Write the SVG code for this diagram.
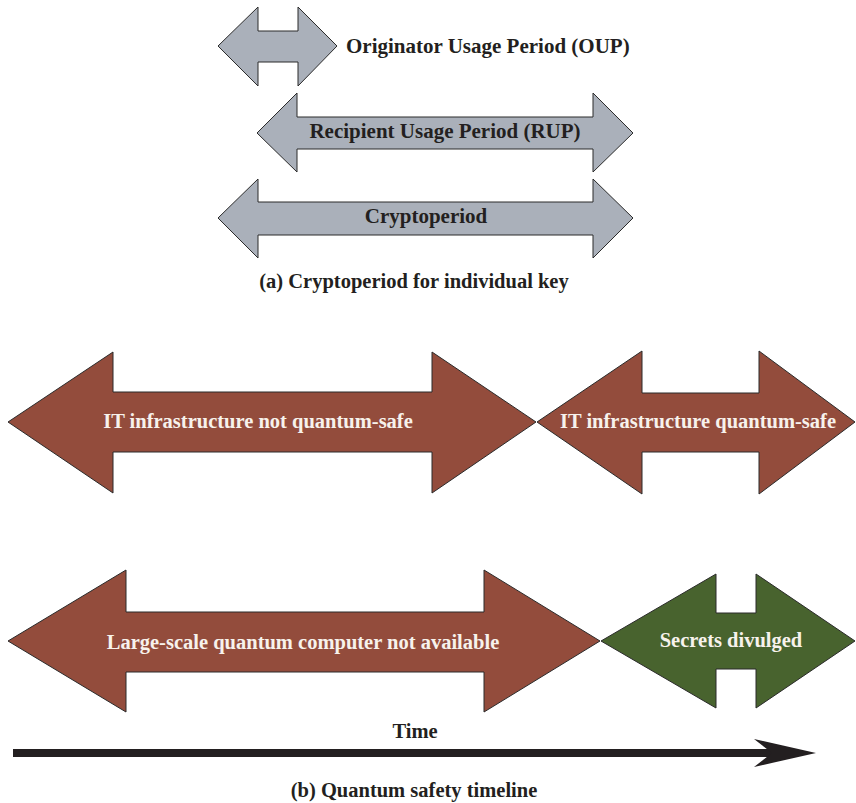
<svg xmlns="http://www.w3.org/2000/svg" width="856" height="803" viewBox="0 0 856 803">
<style>
.gray{fill:#aab0ba;stroke:#2b2b2b;stroke-width:1}
.brown{fill:#934c3c;stroke:#2b2b2b;stroke-width:1}
.green{fill:#48632e;stroke:#2b2b2b;stroke-width:1}
text{font-family:"Liberation Serif","Times New Roman",serif;font-weight:bold}
.dark{fill:#231f20;font-size:21px}
.light{fill:#f7f2ec;font-size:20.5px;text-anchor:middle}
.cap{fill:#231f20;font-size:20.5px;text-anchor:middle}
</style>
<rect width="856" height="803" fill="#ffffff"/>
<g id="oup">
<polygon class="gray" points="218,46 258,7 258,31 298,31 298,7 337,46 298,86 298,62 258,62 258,86"/>
<text class="dark" x="346" y="53">Originator Usage Period (OUP)</text>
</g>
<g id="rup">
<polygon class="gray" points="257,133 297,93 297,117 593,117 593,93 633,133 593,172 593,149 297,149 297,172"/>
<text class="dark" x="445" y="138" text-anchor="middle">Recipient Usage Period (RUP)</text>
</g>
<g id="cryptoperiod">
<polygon class="gray" points="218,218 258,179 258,202 593,202 593,179 633,218 593,258 593,235 258,235 258,258"/>
<text class="dark" x="426" y="223" text-anchor="middle">Cryptoperiod</text>
</g>
<text class="cap" x="414" y="288">(a) Cryptoperiod for individual key</text>
<g id="not-safe">
<polygon class="brown" points="8,422 113,352 113,392 432,392 432,352 536,422 432,493 432,452 113,452 113,493"/>
<text class="light" x="258" y="428">IT infrastructure not quantum-safe</text>
</g>
<g id="safe">
<polygon class="brown" points="537,422 642,351 642,393 759,393 759,351 855,422 759,494 759,452 642,452 642,494"/>
<text class="light" x="698" y="428">IT infrastructure quantum-safe</text>
</g>
<g id="not-available">
<polygon class="brown" points="8,641 126,570 126,612 484,612 484,570 600,641 484,712 484,672 126,672 126,712"/>
<text class="light" x="303" y="649">Large-scale quantum computer not available</text>
</g>
<g id="divulged">
<polygon class="green" points="601,641 716,574 716,613 756,613 756,574 855,641 756,708 756,669 716,669 716,708"/>
<text class="light" x="731" y="647">Secrets divulged</text>
</g>
<g id="connectors">
<rect x="13" y="749" width="762" height="8" fill="#231f20"/>
<polygon points="754,739 816,753 754,767 772,753" fill="#231f20"/>
</g>
<text class="cap" x="415" y="738">Time</text>
<text class="cap" x="414" y="797">(b) Quantum safety timeline</text>
</svg>
